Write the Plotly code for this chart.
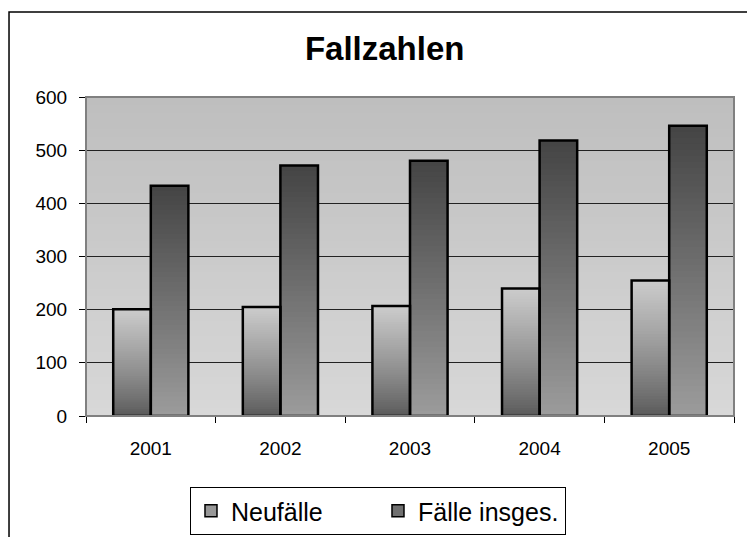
import plotly.graph_objects as go

# %% DATA
jahre = ["2001", "2002", "2003", "2004", "2005"]
neufaelle = [201, 205, 207, 240, 255]
faelle_insges = [433, 471, 480, 518, 546]

# %% SETTINGS
n_seg = 48
font = "Liberation Sans, Arial, sans-serif"


def grau(v):
    v = int(round(v))
    return "rgb(%d,%d,%d)" % (v, v, v)


fig = go.Figure()

# gradient bars: overlapping bars from zero, tallest first (t=0 bottom, t=1 top)
serien = [
    ("neu", neufaelle, lambda t: 88 + 116 * t ** 0.85),
    ("ges", faelle_insges, lambda t: 156 - 88 * t),
]
for grp, werte, farbe in serien:
    for k in reversed(range(n_seg)):
        t = (k + 0.5) / n_seg
        fig.add_trace(go.Bar(
            x=jahre, y=[w * (k + 1) / n_seg for w in werte],
            offsetgroup=grp, marker_color=grau(farbe(t)), marker_line_width=0,
            showlegend=False, hoverinfo="skip"))

# outlines on top
for (grp, werte, farbe), name in zip(serien, ["Neufälle", "Fälle insges."]):
    fig.add_trace(go.Bar(
        x=jahre, y=werte, offsetgroup=grp, name=name,
        marker=dict(color="rgba(0,0,0,0)", line=dict(color="black", width=2.5)),
        showlegend=False))
    # legend entry only
    fig.add_trace(go.Bar(
        x=jahre, y=[None] * len(jahre), offsetgroup=grp, name=name,
        marker=dict(color=grau(farbe(0.5)), line=dict(color="black", width=1.5)),
        showlegend=True))

# plot area gradient background (overlapping strips, top first)
shapes = []
n_bg = 40
for k in reversed(range(n_bg)):
    t = (k + 0.5) / n_bg
    shapes.append(dict(type="rect", xref="paper", yref="paper", x0=0, x1=1,
                       y0=0, y1=(k + 1.0) / n_bg, layer="below", line_width=0,
                       fillcolor=grau(216 - 26 * t)))
# plot area border
shapes.append(dict(type="rect", xref="paper", yref="paper", x0=0, x1=1, y0=0, y1=1,
                   line=dict(color="#808080", width=2), layer="above"))
# chart area border
shapes.append(dict(type="rect", xref="paper", yref="paper", x0=-0.1188, x1=1.5,
                   y0=-1, y1=1.2665, line=dict(color="black", width=1.5)))

fig.update_layout(
    width=747, height=537,
    margin=dict(l=86, r=13, t=97, b=121, autoexpand=False),
    paper_bgcolor="white", plot_bgcolor="rgba(0,0,0,0)",
    barmode="group", bargap=0.42, bargroupgap=0,
    font=dict(family=font, color="black", size=19),
    title=dict(text="<b>Fallzahlen</b>", font=dict(size=33, family=font),
               x=0.515, xref="container", xanchor="center",
               y=0.909, yref="container", yanchor="middle"),
    shapes=shapes,
    legend=dict(orientation="h", x=0.4506, xanchor="center", y=-0.2226, yanchor="top",
                bgcolor="white", bordercolor="black", borderwidth=1,
                font=dict(size=25, family=font), entrywidth=142),
)
fig.update_xaxes(type="category", showline=True, linecolor="black", linewidth=1,
                 ticks="outside", tickson="boundaries", ticklen=6, tickcolor="black",
                 showgrid=False, ticklabelstandoff=15, automargin=False)
fig.update_yaxes(range=[0, 600], dtick=100, showline=True, linecolor="black", linewidth=1,
                 ticks="outside", ticklen=6, tickcolor="black", showgrid=True,
                 gridcolor="#222222", gridwidth=1, zeroline=False, ticklabelstandoff=8,
                 automargin=False)

fig.write_html("out.html", config={"displayModeBar": False},
               post_script="document.body.style.margin='0';")
